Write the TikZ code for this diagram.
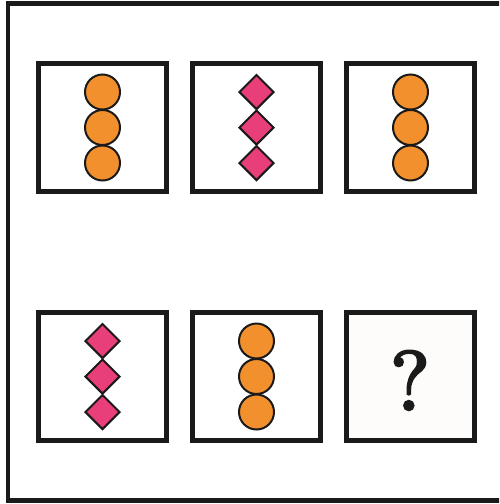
\documentclass[tikz,border=0pt]{standalone}
\usetikzlibrary{shapes.geometric}
\definecolor{frameblack}{HTML}{1A1A1A}
\definecolor{dotorange}{HTML}{F3902E}
\definecolor{gempink}{HTML}{E83E7A}
\definecolor{qfill}{HTML}{FDFCFA}
\font\qmarkfont="[lmroman10-regular.otf]:embolden=3" at 84pt
\begin{document}
\begin{tikzpicture}[x=1pt,y=-1pt,
  panel/.style={draw=frameblack,line width=5pt,minimum width=128pt,minimum height=128pt,inner sep=0pt,fill=white},
  dot/.style={circle,draw=frameblack,line width=2pt,fill=dotorange,minimum size=35pt,inner sep=0pt},
  gem/.style={diamond,draw=frameblack,line width=2pt,fill=gempink,minimum width=35pt,minimum height=35pt,inner sep=0pt,aspect=1}]
\useasboundingbox (0,0) rectangle (499,504);
\clip (0,0) rectangle (499,504);
\draw[frameblack,line width=4.5pt] (510,3.3) -- (8,3.3) -- (8,500.3) -- (510,500.3);
% panels
\node[panel] (p1) at (102.5,127.5) {};
\node[panel] (p2) at (256.5,127.5) {};
\node[panel] (p3) at (410.5,127.5) {};
\node[panel] (p4) at (102.5,376.5) {};
\node[panel] (p5) at (256.5,376.5) {};
\node[panel,fill=qfill] (p6) at (410.5,376.5) {};
\node[text=frameblack,font=\qmarkfont,inner sep=0pt,anchor=base] (q) at (410,410) {?};
% contents
\foreach \p/\s in {p1/dot,p2/gem,p3/dot,p4/gem,p5/dot}{
  \node[\s] (\p a) at ([yshift=35.5pt]\p.center) {};
  \node[\s] (\p b) at (\p.center) {};
  \node[\s] (\p c) at ([yshift=-35.5pt]\p.center) {};
}
\end{tikzpicture}
\end{document}
